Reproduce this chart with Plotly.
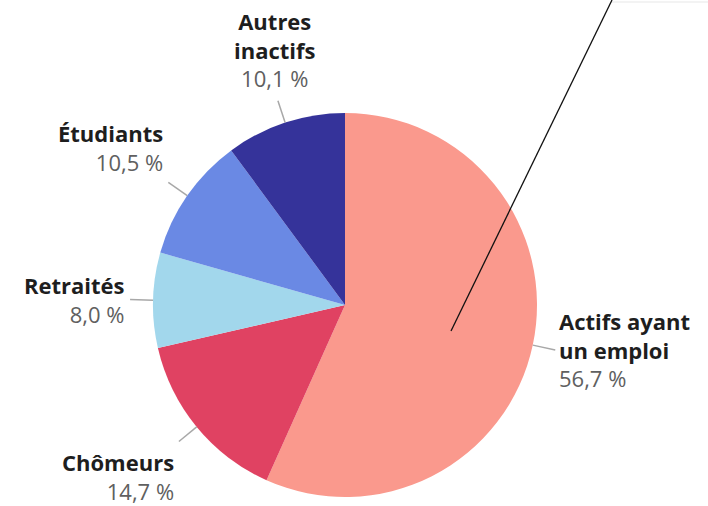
import math
import plotly.graph_objects as go

labels = ["Actifs ayant un emploi", "Chômeurs", "Retraités", "Étudiants", "Autres inactifs"]
label_lines = [["Actifs ayant", "un emploi"], ["Chômeurs"], ["Retraités"], ["Étudiants"], ["Autres", "inactifs"]]
values = [56.7, 14.7, 8.0, 10.5, 10.1]
pct_text = ["56,7 %", "14,7 %", "8,0 %", "10,5 %", "10,1 %"]
colors = ["#FA998D", "#E04262", "#A2D7EC", "#6A89E4", "#35339A"]

W, H = 708, 506
CX, CY, R = 345, 305, 192  # pie geometry in pixels (from top-left)
CONN = 23

fig = go.Figure(go.Pie(
    labels=labels, values=values, sort=False, direction="clockwise", rotation=0,
    marker=dict(colors=colors, line=dict(width=0)),
    textinfo="none", hoverinfo="label+percent", showlegend=False,
    domain=dict(x=[(CX - R) / W, (CX + R) / W], y=[(H - CY - R) / H, (H - CY + R) / H]),
))

def px(x, y):
    return x / W, 1 - y / H

shapes = []
annotations = []
total = sum(values)
cum = 0.0
for i, v in enumerate(values):
    mid = (cum + v / 2) / total * 2 * math.pi
    cum += v
    s, c = math.sin(mid), math.cos(mid)
    x0, y0 = CX + R * s, CY - R * c
    x1, y1 = CX + (R + CONN) * s, CY - (R + CONN) * c
    ax0, ay0 = px(x0, y0)
    ax1, ay1 = px(x1, y1)
    shapes.append(dict(type="line", xref="paper", yref="paper", x0=ax0, y0=ay0, x1=ax1, y1=ay1,
                       line=dict(color="#A8A8A8", width=1.5)))
    if s > 0.4:
        xa, xs = "left", 2
    elif s < -0.4:
        xa, xs = "right", -3
    else:
        xa, xs = "center", -3
    if c > 0.8:
        ya, ys = "bottom", 6
    elif c > 0.5:
        ya, ys = "bottom", 3
    elif c < -0.5:
        ya, ys = "top", -3
    else:
        ya, ys = "middle", 0
    txt = "<br>".join("<b>%s</b>" % l for l in label_lines[i])
    txt += "<br><span style='color:#606060'>%s</span>" % pct_text[i]
    annotations.append(dict(x=ax1, y=ay1, xref="paper", yref="paper", text=txt, showarrow=False,
                            xanchor=xa, yanchor=ya, xshift=xs, yshift=ys,
                            align="center" if xa == "center" else ("left" if xa == "left" else "right"),
                            font=dict(family="Open Sans", size=22, color="#1E1E1E")))

# tooltip callout (decorative)
bx0, by0 = px(612, 2)
bx1, by1 = px(W + 5, -40)
shapes.append(dict(type="rect", xref="paper", yref="paper", x0=bx0, y0=by0, x1=bx1, y1=by1,
                   line=dict(color="#F0F0F0", width=1.5), fillcolor="#FFFFFF"))
lx0, ly0 = px(451, 331)
lx1, ly1 = px(612, 0)
shapes.append(dict(type="line", xref="paper", yref="paper", x0=lx0, y0=ly0, x1=lx1, y1=ly1,
                   line=dict(color="#111111", width=1.3)))

fig.update_layout(width=W, height=H, margin=dict(l=0, r=0, t=0, b=0),
                  paper_bgcolor="white", plot_bgcolor="white",
                  shapes=shapes, annotations=annotations)
fig.write_html("out.html", config={"displayModeBar": False},
               post_script="document.body.style.margin='0';document.body.style.overflow='hidden';")
